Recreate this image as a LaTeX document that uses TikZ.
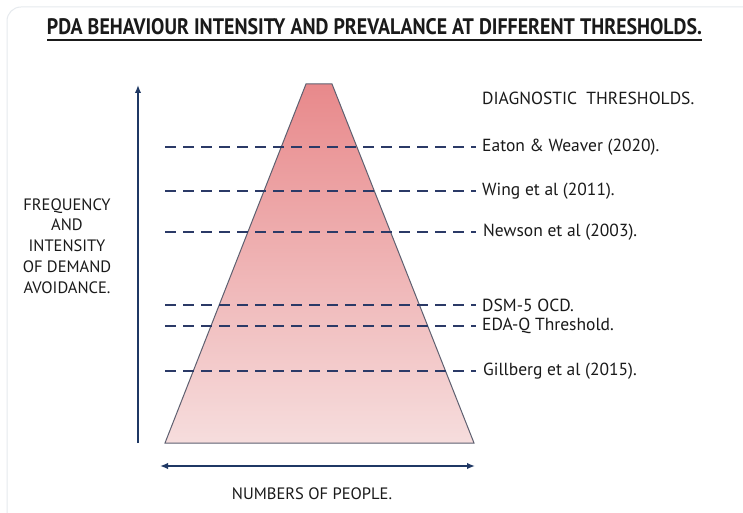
\documentclass[tikz,border=0pt]{standalone}
\usepackage{fontspec}
\setmainfont{PT Sans}
\usetikzlibrary{arrows.meta}
\definecolor{navy}{HTML}{1F3864}
\definecolor{dashc}{HTML}{2B3A67}
\definecolor{topred}{HTML}{E8898B}
\definecolor{botred}{HTML}{F6DDDD}
\definecolor{edgec}{HTML}{5E6070}
\definecolor{txt}{HTML}{1A1A1A}
\definecolor{cardc}{HTML}{E6EAEE}
\tikzset{
  lbl/.style={font=\fontsize{17.5}{19}\selectfont, text=txt, inner sep=0pt, anchor=west},
  thr/.style={draw=dashc, line width=2pt, dash pattern=on 10.5pt off 7.5pt},
  axis/.style={draw=navy, line width=2pt, -{Latex[length=8pt,width=6.5pt]}},
}
\begin{document}
\begin{tikzpicture}[x=1pt,y=-1pt]
\useasboundingbox (0,0) rectangle (743,513);
\fill[white] (0,0) rectangle (743,513);
\draw[cardc, line width=1pt, rounded corners=14pt] (7,7) rectangle (760,530);
% title
\node[inner sep=0pt, text=txt] (title) at (374.5,27) {\resizebox{655pt}{16pt}{\bfseries PDA BEHAVIOUR INTENSITY AND PREVALANCE AT DIFFERENT THRESHOLDS.}};
\draw[txt, line width=1.8pt] (47,40) -- (702,40);
% trapezoid
\shade[top color=topred, bottom color=botred, draw=edgec, line width=1pt]
  (306,84) -- (332,84) -- (474,443) -- (165,443) -- cycle;
\node[inner sep=0pt] (trap) at (319,263) {};
% axes
\coordinate (vb) at (138,443);
\coordinate (vt) at (138,85);
\draw[axis] (vb) -- (vt);
\coordinate (hl) at (160,466);
\coordinate (hr) at (475,466);
\draw[axis, {Latex[length=8pt,width=6.5pt]}-{Latex[length=8pt,width=6.5pt]}] (hl) -- (hr);
% axis labels
\node[font=\fontsize{16.5}{20.8}\selectfont, text=txt, align=center] (ylab) at (67,246) {FREQUENCY\\AND\\INTENSITY\\OF DEMAND\\AVOIDANCE.};
\node[font=\fontsize{16.5}{18}\selectfont, text=txt] (xlab) at (312,494) {NUMBERS OF PEOPLE.};
\node[lbl] (diag) at (482,98) {DIAGNOSTIC\ \ THRESHOLDS.};
% thresholds
\node[lbl] (t1) at (482,147) {Eaton \& Weaver (2020).};
\node[lbl] (t2) at (482,191) {Wing et al (2011).};
\node[lbl] (t3) at (483,232) {Newson et al (2003).};
\node[lbl] (t4) at (482,305) {DSM-5 OCD.};
\node[lbl] (t5) at (482,326) {EDA-Q Threshold.};
\node[lbl] (t6) at (483,371) {Gillberg et al (2015).};
\coordinate (s1) at (165,147);
\coordinate (s2) at (165,191);
\coordinate (s3) at (165,232);
\coordinate (s4) at (165,305);
\coordinate (s5) at (165,326);
\coordinate (s6) at (165,371);
\draw[thr] (s1) -- ([xshift=-6pt]t1.west);
\draw[thr] (s2) -- ([xshift=-6pt]t2.west);
\draw[thr] (s3) -- ([xshift=-7pt]t3.west);
\draw[thr] (s4) -- ([xshift=-6pt]t4.west);
\draw[thr] (s5) -- ([xshift=-6pt]t5.west);
\draw[thr] (s6) -- ([xshift=-7pt]t6.west);
\end{tikzpicture}
\end{document}
